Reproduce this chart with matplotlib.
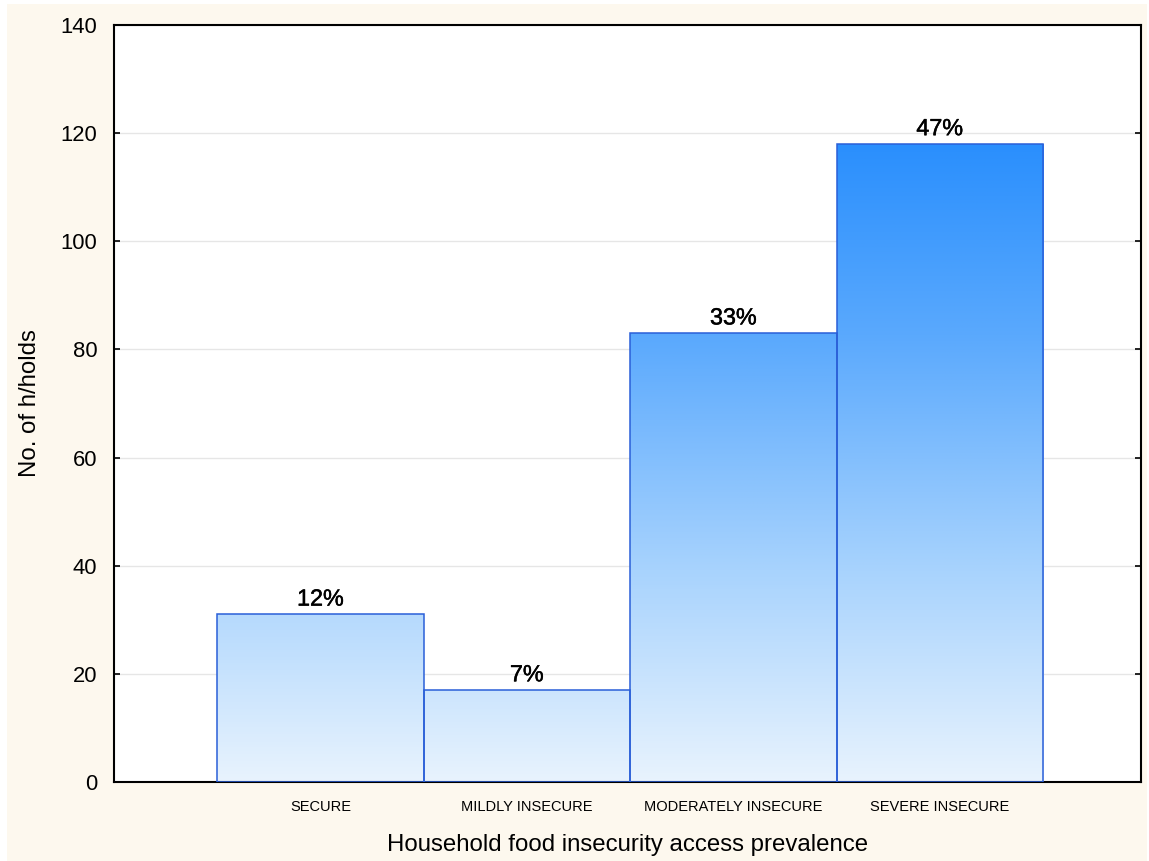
import matplotlib

matplotlib.use("Agg")
import matplotlib.patheffects as pe
import matplotlib.pyplot as plt
import numpy as np
from matplotlib.colors import LinearSegmentedColormap, Normalize
from matplotlib.patches import Rectangle

plt.rcParams["font.family"] = ["Liberation Sans", "DejaVu Sans"]

categories = ["SECURE", "MILDLY INSECURE", "MODERATELY INSECURE", "SEVERE INSECURE"]
households = [31, 17, 83, 118]
y_ticks = [0, 20, 40, 60, 80, 100, 120, 140]

# vertical blue ramp, tied to the y scale rather than to each bar
ramp = LinearSegmentedColormap.from_list(
    "ramp",
    [(0.0, "#e8f3fe"), (0.33, "#a8d3fd"), (0.70, "#5aa9fd"), (1.0, "#2a8ffd")],
)
norm = Normalize(vmin=0, vmax=max(households))

fig = plt.figure(figsize=(11.49, 8.61), dpi=100, facecolor="white")
fig.patches.append(
    Rectangle((7 / 1149, 0), 1140 / 1149, 857 / 861, transform=fig.transFigure,
              facecolor="#fdf8ee", edgecolor="none", zorder=-10)
)
ax = fig.add_axes([114 / 1149, 79 / 861, 1027 / 1149, 757 / 861])
ax.set_facecolor("white")

x = np.arange(len(categories))
bars = ax.bar(x, households, width=1.0, facecolor="none",
              edgecolor="#2a5fd8", linewidth=1.1, zorder=3)
for rect, h in zip(bars, households):
    x0 = rect.get_x()
    grad = np.linspace(0, h, 256).reshape(-1, 1)
    im = ax.imshow(grad, cmap=ramp, norm=norm, origin="lower", aspect="auto",
                   extent=(x0, x0 + rect.get_width(), 0, h), zorder=2,
                   interpolation="bilinear")
    im.set_clip_path(rect)

total = sum(households)
for xi, h in zip(x, households):
    ax.text(xi, h + 0.7, f"{round(100 * h / total)}%", ha="center", va="bottom",
            fontsize=16.8, color="black", zorder=4,
            path_effects=[pe.withStroke(linewidth=0.35, foreground="black")])

ax.set_xlim(-1.0, 3.975)
ax.set_ylim(0, 140)
ax.set_yticks(y_ticks)
ax.set_xticks(x)
ax.set_xticklabels(categories, fontsize=10.5)
ax.tick_params(axis="y", labelsize=15.8, direction="in", length=4, width=1.2,
               pad=12, right=True)
ax.tick_params(axis="x", direction="in", length=3, width=1.2, pad=13)
ax.yaxis.grid(True, color="#e6e6e6", linewidth=1.0, zorder=0)
ax.set_axisbelow(True)
for s in ax.spines.values():
    s.set_linewidth(1.5)
    s.set_color("black")

ax.set_xlabel("Household food insecurity access prevalence", fontsize=17.3, labelpad=14)
ax.set_ylabel("No. of h/holds", fontsize=17.3, labelpad=14)

fig.savefig("out.png", dpi=100, facecolor=fig.get_facecolor())
